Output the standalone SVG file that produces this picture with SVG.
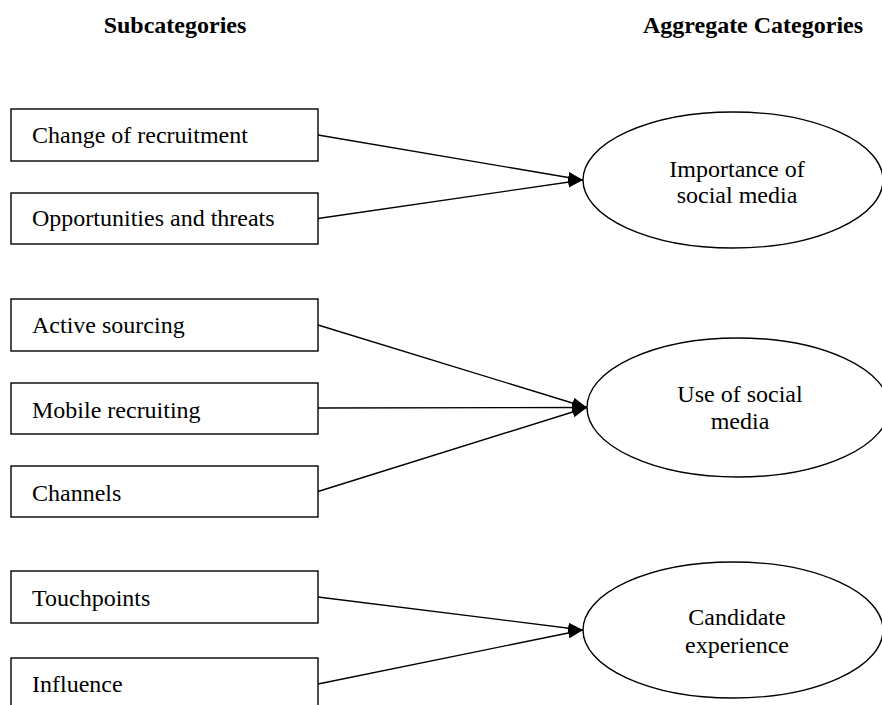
<svg xmlns="http://www.w3.org/2000/svg" width="882" height="705" viewBox="0 0 882 705">
<style>
text { font-family: "Liberation Serif", "Times New Roman", serif; font-size: 24px; fill: #000; }
.hdr { font-weight: bold; text-anchor: middle; }
.box { fill: #fff; stroke: #000; stroke-width: 1.4; }
.ell { fill: #fff; stroke: #000; stroke-width: 1.4; }
.lbl { text-anchor: middle; }
.conn line { stroke: #000; stroke-width: 1.4; marker-end: url(#arr); }
</style>
<defs>
<marker id="arr" markerUnits="userSpaceOnUse" markerWidth="15" markerHeight="11" refX="15" refY="5.5" orient="auto">
<path d="M0,0 L15,5.5 L0,11 z" fill="#000"/>
</marker>
</defs>
<rect width="882" height="705" fill="#fff"/>
<text class="hdr" x="175" y="33">Subcategories</text>
<text class="hdr" x="753" y="33">Aggregate Categories</text>

<g id="n-change"><rect class="box" x="11" y="109" width="307" height="52"/><text x="32" y="143">Change of recruitment</text></g>
<g id="n-opp"><rect class="box" x="11" y="193" width="307" height="51"/><text x="32" y="226">Opportunities and threats</text></g>
<g id="n-active"><rect class="box" x="11" y="299" width="307" height="52"/><text x="32" y="333">Active sourcing</text></g>
<g id="n-mobile"><rect class="box" x="11" y="383" width="307" height="51"/><text x="32" y="418">Mobile recruiting</text></g>
<g id="n-channels"><rect class="box" x="11" y="466" width="307" height="51"/><text x="32" y="501">Channels</text></g>
<g id="n-touch"><rect class="box" x="11" y="571" width="307" height="52"/><text x="32" y="606">Touchpoints</text></g>
<g id="n-influence"><rect class="box" x="11" y="658" width="307" height="52"/><text x="32" y="692">Influence</text></g>

<g id="n-importance"><ellipse class="ell" cx="733" cy="180" rx="150" ry="68"/><text class="lbl" x="737" y="177">Importance of</text><text class="lbl" x="737" y="203">social media</text></g>
<g id="n-use"><ellipse class="ell" cx="738" cy="407.5" rx="151" ry="69.5"/><text class="lbl" x="740" y="402">Use of social</text><text class="lbl" x="740" y="429">media</text></g>
<g id="n-candidate"><ellipse class="ell" cx="733" cy="630" rx="150" ry="68"/><text class="lbl" x="737" y="625">Candidate</text><text class="lbl" x="737" y="653">experience</text></g>

<g class="conn" id="connectors">
<line x1="318" y1="135" x2="583" y2="180"/>
<line x1="318" y1="218.5" x2="583" y2="180"/>
<line x1="318" y1="325" x2="587" y2="407.5"/>
<line x1="318" y1="408" x2="587" y2="407.5"/>
<line x1="318" y1="491.5" x2="587" y2="407.5"/>
<line x1="318" y1="597" x2="583" y2="630"/>
<line x1="318" y1="684" x2="583" y2="630"/>
</g>
</svg>
